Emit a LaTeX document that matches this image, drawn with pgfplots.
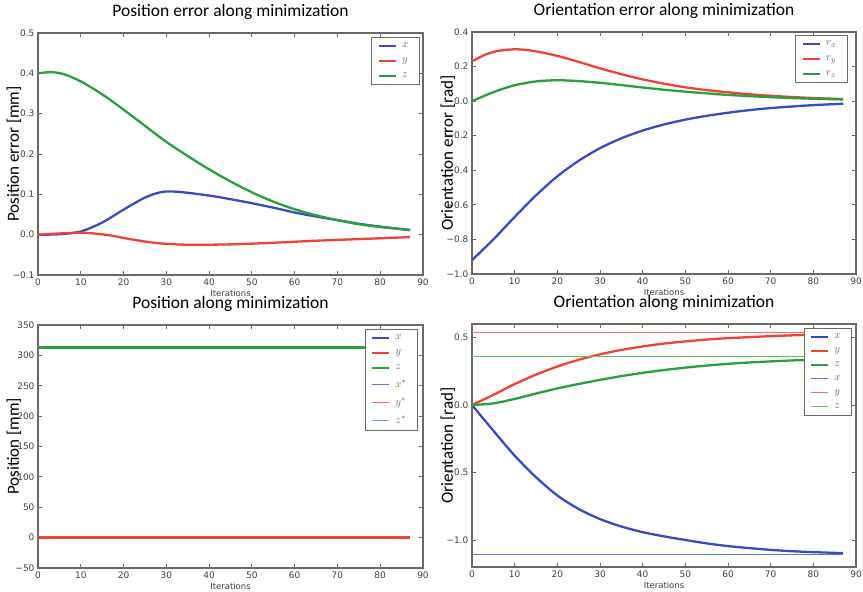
\documentclass[border=0pt]{standalone}
\usepackage{fontspec}
\setmainfont{DejaVu Sans}
\newfontfamily\carlito{Carlito}
\usepackage{pgfplots}
\pgfplotsset{compat=1.18}
\newcommand{\mn}{\char"2212\relax}
\newcommand{\tlTL}[1]{\ifcase#1 \mn0.1\or 0.0\or 0.1\or 0.2\or 0.3\or 0.4\or 0.5\fi}
\newcommand{\tlTR}[1]{\ifcase#1 \mn1.0\or \mn0.8\or \mn0.6\or \mn0.4\or \mn0.2\or 0.0\or 0.2\or 0.4\fi}
\newcommand{\tlBL}[1]{\ifcase#1 \mn50\or 0\or 50\or 100\or 150\or 200\or 250\or 300\or 350\fi}
\newcommand{\tlBR}[1]{\ifcase#1 \mn1.0\or \mn0.5\or 0.0\or 0.5\fi}
\definecolor{cb}{RGB}{55,75,195}
\definecolor{cr}{RGB}{240,65,55}
\definecolor{cg}{RGB}{40,160,60}
\definecolor{cbl}{RGB}{95,115,225}
\definecolor{crl}{RGB}{255,105,105}
\definecolor{cgl}{RGB}{100,195,100}
\definecolor{frame}{RGB}{105,105,105}
\pgfplotsset{
  myax/.style={
    scale only axis,
    xmin=0, xmax=90, xtick={0,10,...,90},
    tick align=inside, tick pos=both,
    major tick length=4pt,
    axis line style={frame, line width=1.1pt},
    every tick/.style={frame, line width=0.8pt},
    /pgf/number format/assume math mode=true,
    tick label style={font=\fontsize{9}{10}\selectfont, text=black!75},
    xlabel={Iterations},
    xlabel style={font=\fontsize{8.5}{9}\selectfont, text=black!75, inner sep=1pt, at={(axis description cs:0.5,0)}, anchor=north, yshift=-14pt},
    ylabel style={font=\carlito\fontsize{17}{18}\selectfont, at={(axis description cs:0,0.5)}, anchor=center, yshift=24pt},
    title style={font=\carlito\fontsize{17.5}{18}\selectfont, inner sep=1pt, at={(axis description cs:0.5,1)}, anchor=south, yshift=6pt},
    legend cell align=left,
    legend style={draw=frame, line width=1.1pt, font=\fontsize{11}{12}\selectfont, text=black!60,
      anchor=north east, inner xsep=6pt, inner ysep=4pt, row sep=5.5pt,
      nodes={inner xsep=5pt, inner ysep=1.6pt}},
    legend image code/.code={\draw[#1] (0pt,0pt) -- (17pt,0pt);},
  },
  ml/.style={line width=2.3pt, smooth},
  refl/.style={line width=1.1pt},
}
\begin{document}
\begin{tikzpicture}
\useasboundingbox (0pt,0pt) rectangle (863pt,-592pt);
% ---------------- top left
\begin{axis}[myax, at={(38pt,-275pt)}, anchor=south west, width=385pt, height=242pt,
  ymin=-0.1, ymax=0.5, ytick={-0.1,0,0.1,0.2,0.3,0.4,0.5},
  yticklabel={\tlTL{\ticknum}},
  ylabel={Position error [mm]}, title={Position error along minimization},
  legend style={at={(axis description cs:0.992,0.984)}}]
\addplot[cb, ml] coordinates {(0,0) (5,0.001) (10,0.008) (15,0.03) (20,0.062) (25,0.092) (29,0.106) (33,0.106) (40,0.097) (45,0.088) (50,0.078) (55,0.067) (60,0.055) (65,0.045) (70,0.036) (75,0.027) (80,0.020) (87,0.011)};
\addlegendentry{$x$}
\addplot[cr, ml] coordinates {(0,0) (5,0.003) (10,0.005) (13,0.003) (17,-0.002) (22,-0.012) (28,-0.021) (35,-0.025) (45,-0.024) (55,-0.020) (65,-0.015) (75,-0.011) (87,-0.006)};
\addlegendentry{$y$}
\addplot[cg, ml] coordinates {(0,0.400) (3,0.403) (6,0.398) (10,0.380) (15,0.348) (20,0.310) (25,0.270) (30,0.230) (35,0.195) (40,0.162) (45,0.132) (50,0.105) (55,0.082) (60,0.063) (65,0.048) (70,0.036) (75,0.026) (80,0.019) (87,0.012)};
\addlegendentry{$z$}
\end{axis}
% ---------------- top right
\begin{axis}[myax, at={(472pt,-274pt)}, anchor=south west, width=384pt, height=242pt,
  ymin=-1.0, ymax=0.4, ytick={-1,-0.8,-0.6,-0.4,-0.2,0,0.2,0.4},
  yticklabel={\tlTR{\ticknum}},
  ylabel={Orientation error [rad]}, title={Orientation error along minimization},
  legend style={at={(axis description cs:0.979,0.988)}}]
\addplot[cb, ml] coordinates {(0,-0.92) (5,-0.80) (10,-0.67) (15,-0.545) (20,-0.435) (25,-0.345) (30,-0.272) (35,-0.215) (40,-0.170) (45,-0.135) (50,-0.107) (55,-0.085) (60,-0.067) (65,-0.052) (70,-0.040) (75,-0.031) (80,-0.023) (87,-0.015)};
\addlegendentry{$r_x$}
\addplot[cr, ml] coordinates {(0,0.23) (3,0.268) (6,0.290) (10,0.300) (14,0.292) (20,0.262) (25,0.227) (30,0.190) (35,0.156) (40,0.126) (45,0.101) (50,0.080) (55,0.064) (60,0.051) (65,0.040) (70,0.031) (75,0.024) (80,0.018) (87,0.012)};
\addlegendentry{$r_y$}
\addplot[cg, ml] coordinates {(0,0) (5,0.052) (10,0.092) (15,0.114) (20,0.121) (25,0.116) (30,0.106) (35,0.093) (40,0.079) (45,0.066) (50,0.055) (55,0.045) (60,0.036) (65,0.029) (70,0.023) (75,0.018) (80,0.014) (87,0.010)};
\addlegendentry{$r_z$}
\end{axis}
% ---------------- bottom left
\begin{axis}[myax, at={(38pt,-568pt)}, anchor=south west, width=385pt, height=243pt,
  ymin=-50, ymax=350, ytick={-50,0,50,100,150,200,250,300,350},
  yticklabel={\tlBL{\ticknum}},
  ylabel={Position  [mm]}, title={Position along minimization},
  legend style={at={(axis description cs:0.987,0.984)}}]
\addplot[cbl, refl, forget plot] coordinates {(0,0) (87,0)};
\addplot[crl, refl, forget plot] coordinates {(0,0) (87,0)};
\addplot[cgl, refl, forget plot] coordinates {(0,313) (87,313)};
\addplot[cb, ml] coordinates {(0,0) (87,0)};
\addlegendentry{$x$}
\addplot[cr, ml] coordinates {(0,0) (87,0)};
\addlegendentry{$y$}
\addplot[cg, ml] coordinates {(0,313) (87,313)};
\addlegendentry{$z$}
\addlegendimage{cbl, refl}
\addlegendentry{$x^*$}
\addlegendimage{crl, refl}
\addlegendentry{$y^*$}
\addlegendimage{cgl, refl}
\addlegendentry{$z^*$}
\end{axis}
% ---------------- bottom right
\begin{axis}[myax, at={(472pt,-567pt)}, anchor=south west, width=384pt, height=243pt,
  ymin=-1.2, ymax=0.6, ytick={-1,-0.5,0,0.5},
  yticklabel={\tlBR{\ticknum}},
  ylabel={Orientation [rad]}, title={Orientation along minimization},
  legend style={at={(axis description cs:0.99,0.984)}, row sep=4.5pt}]
\addplot[cb, ml] coordinates {(0,0) (5,-0.19) (10,-0.375) (15,-0.535) (20,-0.67) (25,-0.77) (30,-0.845) (35,-0.90) (40,-0.942) (45,-0.973) (50,-1.0) (55,-1.025) (60,-1.045) (65,-1.06) (70,-1.073) (75,-1.083) (80,-1.09) (87,-1.097)};
\addlegendentry{$x$}
\addplot[cr, ml] coordinates {(0,0) (5,0.075) (10,0.155) (15,0.225) (20,0.285) (25,0.335) (30,0.375) (35,0.408) (40,0.434) (45,0.455) (50,0.471) (55,0.485) (60,0.495) (65,0.503) (70,0.510) (75,0.516) (80,0.520) (87,0.525)};
\addlegendentry{$y$}
\addplot[cg, ml] coordinates {(0,0) (5,0.012) (10,0.045) (15,0.085) (20,0.123) (25,0.156) (30,0.186) (35,0.214) (40,0.238) (45,0.259) (50,0.277) (55,0.292) (60,0.305) (65,0.315) (70,0.323) (75,0.330) (80,0.335) (87,0.340)};
\addlegendentry{$z$}
\addplot[cbl, refl] coordinates {(0,-1.105) (87,-1.105)};
\addlegendentry{$x$}
\addplot[crl, refl] coordinates {(0,0.54) (87,0.54)};
\addlegendentry{$y$}
\addplot[cgl, refl] coordinates {(0,0.36) (87,0.36)};
\addlegendentry{$z$}
\end{axis}
\end{tikzpicture}
\end{document}
